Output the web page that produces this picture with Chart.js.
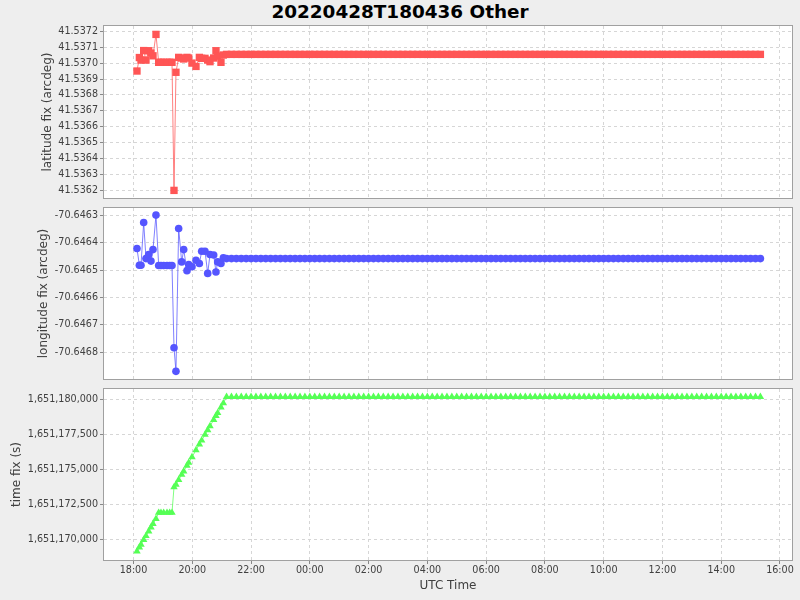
<!DOCTYPE html>
<html>
<head>
<meta charset="utf-8">
<title>20220428T180436 Other</title>
<script src="https://cdn.jsdelivr.net/npm/chart.js@4.4.1/dist/chart.umd.min.js"></script>
<style>
    html, body { margin: 0; padding: 0; background: #eeeeee; }
    #wrap { position: relative; width: 800px; height: 600px; overflow: hidden; }
    #title {
        position: absolute; left: 0; top: 1px; width: 800px; height: 24px;
        line-height: 24px; text-align: center;
        font: bold 18.4px "DejaVu Sans", sans-serif; color: #000;
    }
    canvas { position: absolute; left: 0; }
</style>
</head>
<body>
<div id="wrap">
    <div id="title">20220428T180436 Other</div>
    <canvas id="latChart" width="800" height="200" style="top:0px"></canvas>
    <canvas id="lonChart" width="800" height="181" style="top:200px"></canvas>
    <canvas id="timeChart" width="800" height="219" style="top:381px"></canvas>
</div>
<script>
// UTC time of each record, minutes after 2022-04-28 18:00 UTC
const utcMinutes = [
    7.1, 12.0, 15.3, 20.8, 25.5, 31.0, 35.7, 39.8, 45.9, 51.4,
    56.1, 61.6, 68.4, 73.9, 78.6, 82.7, 86.7, 92.2, 98.4, 102.5,
    109.2, 112.7, 119.4, 127.6, 134.5, 139.2, 146.0, 151.5, 156.2, 163.7,
    168.4, 171.9, 178.6, 183.5,
    190, 200, 210, 220, 230, 240, 250, 260, 270, 280,
    290, 300, 310, 320, 330, 340, 350, 360, 370, 380,
    390, 400, 410, 420, 430, 440, 450, 460, 470, 480,
    490, 500, 510, 520, 530, 540, 550, 560, 570, 580,
    590, 600, 610, 620, 630, 640, 650, 660, 670, 680,
    690, 700, 710, 720, 730, 740, 750, 760, 770, 780,
    790, 800, 810, 820, 830, 840, 850, 860, 870, 880,
    890, 900, 910, 920, 930, 940, 950, 960, 970, 980,
    990, 1000, 1010, 1020, 1030, 1040, 1050, 1060, 1070, 1080,
    1090, 1100, 1110, 1120, 1130, 1140, 1150, 1160, 1170, 1180,
    1190, 1200, 1210, 1220, 1230, 1240, 1250, 1260, 1270, 1280
];

const latitudeFix = [
    41.536951, 41.537036, 41.537020, 41.537080, 41.537020, 41.537079, 41.537064, 41.537047, 41.537182, 41.537006,
    41.537006, 41.537006, 41.537006, 41.537006, 41.537006, 41.536198, 41.536943, 41.537037, 41.537033, 41.537027,
    41.537037, 41.537033, 41.537001, 41.536980, 41.537037, 41.537031, 41.537031, 41.537020, 41.537010, 41.537033,
    41.537079, 41.537045, 41.537006, 41.537052,
    41.537056, 41.537056, 41.537056, 41.537056, 41.537056, 41.537056, 41.537056, 41.537056, 41.537056, 41.537056,
    41.537056, 41.537056, 41.537056, 41.537056, 41.537056, 41.537056, 41.537056, 41.537056, 41.537056, 41.537056,
    41.537056, 41.537056, 41.537056, 41.537056, 41.537056, 41.537056, 41.537056, 41.537056, 41.537056, 41.537056,
    41.537056, 41.537056, 41.537056, 41.537056, 41.537056, 41.537056, 41.537056, 41.537056, 41.537056, 41.537056,
    41.537056, 41.537056, 41.537056, 41.537056, 41.537056, 41.537056, 41.537056, 41.537056, 41.537056, 41.537056,
    41.537056, 41.537056, 41.537056, 41.537056, 41.537056, 41.537056, 41.537056, 41.537056, 41.537056, 41.537056,
    41.537056, 41.537056, 41.537056, 41.537056, 41.537056, 41.537056, 41.537056, 41.537056, 41.537056, 41.537056,
    41.537056, 41.537056, 41.537056, 41.537056, 41.537056, 41.537056, 41.537056, 41.537056, 41.537056, 41.537056,
    41.537056, 41.537056, 41.537056, 41.537056, 41.537056, 41.537056, 41.537056, 41.537056, 41.537056, 41.537056,
    41.537056, 41.537056, 41.537056, 41.537056, 41.537056, 41.537056, 41.537056, 41.537056, 41.537056, 41.537056,
    41.537056, 41.537056, 41.537056, 41.537056, 41.537056, 41.537056, 41.537056, 41.537056, 41.537056, 41.537056
];

const longitudeFix = [
    -70.646421, -70.646482, -70.646482, -70.646326, -70.646458, -70.646443, -70.646467, -70.646425, -70.646299, -70.646483,
    -70.646483, -70.646483, -70.646483, -70.646483, -70.646483, -70.646784, -70.646870, -70.646348, -70.646470, -70.646425,
    -70.646502, -70.646480, -70.646488, -70.646464, -70.646476, -70.646431, -70.646431, -70.646512, -70.646443, -70.646445,
    -70.646507, -70.646470, -70.646476, -70.646455,
    -70.646458, -70.646458, -70.646458, -70.646458, -70.646458, -70.646458, -70.646458, -70.646458, -70.646458, -70.646458,
    -70.646458, -70.646458, -70.646458, -70.646458, -70.646458, -70.646458, -70.646458, -70.646458, -70.646458, -70.646458,
    -70.646458, -70.646458, -70.646458, -70.646458, -70.646458, -70.646458, -70.646458, -70.646458, -70.646458, -70.646458,
    -70.646458, -70.646458, -70.646458, -70.646458, -70.646458, -70.646458, -70.646458, -70.646458, -70.646458, -70.646458,
    -70.646458, -70.646458, -70.646458, -70.646458, -70.646458, -70.646458, -70.646458, -70.646458, -70.646458, -70.646458,
    -70.646458, -70.646458, -70.646458, -70.646458, -70.646458, -70.646458, -70.646458, -70.646458, -70.646458, -70.646458,
    -70.646458, -70.646458, -70.646458, -70.646458, -70.646458, -70.646458, -70.646458, -70.646458, -70.646458, -70.646458,
    -70.646458, -70.646458, -70.646458, -70.646458, -70.646458, -70.646458, -70.646458, -70.646458, -70.646458, -70.646458,
    -70.646458, -70.646458, -70.646458, -70.646458, -70.646458, -70.646458, -70.646458, -70.646458, -70.646458, -70.646458,
    -70.646458, -70.646458, -70.646458, -70.646458, -70.646458, -70.646458, -70.646458, -70.646458, -70.646458, -70.646458,
    -70.646458, -70.646458, -70.646458, -70.646458, -70.646458, -70.646458, -70.646458, -70.646458, -70.646458, -70.646458
];

// time fix in epoch seconds
const timeFix = [
    1651169136, 1651169430, 1651169628, 1651169958, 1651170240, 1651170570, 1651170852, 1651171098, 1651171464, 1651171900,
    1651171900, 1651171900, 1651171900, 1651171900, 1651171900, 1651173720, 1651173912, 1651174242, 1651174614, 1651174860,
    1651175262, 1651175472, 1651175874, 1651176366, 1651176780, 1651177062, 1651177470, 1651177800, 1651178082, 1651178532,
    1651178814, 1651179024, 1651179426, 1651179720,
    1651180180, 1651180180, 1651180180, 1651180180, 1651180180, 1651180180, 1651180180, 1651180180, 1651180180, 1651180180,
    1651180180, 1651180180, 1651180180, 1651180180, 1651180180, 1651180180, 1651180180, 1651180180, 1651180180, 1651180180,
    1651180180, 1651180180, 1651180180, 1651180180, 1651180180, 1651180180, 1651180180, 1651180180, 1651180180, 1651180180,
    1651180180, 1651180180, 1651180180, 1651180180, 1651180180, 1651180180, 1651180180, 1651180180, 1651180180, 1651180180,
    1651180180, 1651180180, 1651180180, 1651180180, 1651180180, 1651180180, 1651180180, 1651180180, 1651180180, 1651180180,
    1651180180, 1651180180, 1651180180, 1651180180, 1651180180, 1651180180, 1651180180, 1651180180, 1651180180, 1651180180,
    1651180180, 1651180180, 1651180180, 1651180180, 1651180180, 1651180180, 1651180180, 1651180180, 1651180180, 1651180180,
    1651180180, 1651180180, 1651180180, 1651180180, 1651180180, 1651180180, 1651180180, 1651180180, 1651180180, 1651180180,
    1651180180, 1651180180, 1651180180, 1651180180, 1651180180, 1651180180, 1651180180, 1651180180, 1651180180, 1651180180,
    1651180180, 1651180180, 1651180180, 1651180180, 1651180180, 1651180180, 1651180180, 1651180180, 1651180180, 1651180180,
    1651180180, 1651180180, 1651180180, 1651180180, 1651180180, 1651180180, 1651180180, 1651180180, 1651180180, 1651180180
];

// axis ticks
const utcTickLabels = ['18:00', '20:00', '22:00', '00:00', '02:00', '04:00', '06:00', '08:00', '10:00', '12:00', '14:00', '16:00'];
const latTicks = [41.5362, 41.5363, 41.5364, 41.5365, 41.5366, 41.5367, 41.5368, 41.5369, 41.5370, 41.5371, 41.5372];
const lonTicks = [-70.6468, -70.6467, -70.6466, -70.6465, -70.6464, -70.6463];
const timeTicks = [1651170000, 1651172500, 1651175000, 1651177500, 1651180000];

const START_EPOCH = 1651168800; // 2022-04-28 18:00:00 UTC
const X_MIN = 1651165186;
const X_MAX = 1651249472;

const FONT = '"DejaVu Sans", sans-serif';
const TEXT_COLOR = '#404040';
const GRID_COLOR = '#d6d6d6';
const FRAME_COLOR = '#a0a0a0';

const utcSeconds = utcMinutes.map(m => START_EPOCH + m * 60);
const utcTickValues = utcTickLabels.map((label, i) => START_EPOCH + i * 7200);

function toPoints(values) {
    return values.map((v, i) => ({ x: utcSeconds[i], y: v }));
}

// white plot area and grey frame
const plotFrame = {
    id: 'plotFrame',
    beforeDraw(chart) {
        const a = chart.chartArea;
        const ctx = chart.ctx;
        ctx.save();
        ctx.fillStyle = '#ffffff';
        ctx.fillRect(a.left, a.top, a.right - a.left, a.bottom - a.top);
        ctx.restore();
    },
    afterDraw(chart) {
        const a = chart.chartArea;
        const ctx = chart.ctx;
        ctx.save();
        ctx.strokeStyle = FRAME_COLOR;
        ctx.lineWidth = 1;
        ctx.strokeRect(Math.round(a.left) - 0.5, Math.round(a.top) - 0.5,
            Math.round(a.right - a.left) + 1, Math.round(a.bottom - a.top) + 1);
        ctx.restore();
    }
};

// labels may overhang the plot, so drop the extra room Chart.js reserves for them
function noLabelPadding(axis) {
    axis.paddingTop = 0;
    axis.paddingBottom = 0;
    axis.paddingLeft = 0;
    axis.paddingRight = 0;
}

function makePanel(canvasId, cfg) {
    const ctx = document.getElementById(canvasId).getContext('2d');
    const showX = cfg.showXAxis;
    return new Chart(ctx, {
        type: 'scatter',
        data: {
            datasets: [{
                data: toPoints(cfg.values),
                showLine: true,
                borderColor: cfg.lineColor,
                borderWidth: 1,
                pointStyle: cfg.pointStyle,
                pointRadius: cfg.pointRadius,
                pointBackgroundColor: cfg.color,
                pointBorderColor: cfg.color,
                pointBorderWidth: 0
            }]
        },
        options: {
            responsive: false,
            animation: false,
            devicePixelRatio: 1,
            layout: {
                autoPadding: false,
                padding: { left: 0, right: 8, top: cfg.padTop, bottom: cfg.padBottom }
            },
            plugins: { legend: { display: false }, tooltip: { enabled: false } },
            scales: {
                x: {
                    type: 'linear',
                    min: X_MIN,
                    max: X_MAX,
                    afterBuildTicks: axis => {
                        axis.ticks = utcTickValues.map(v => ({ value: v }));
                    },
                    afterFit: axis => {
                        axis.height = showX ? 40 : 0;
                        noLabelPadding(axis);
                    },
                    ticks: {
                        display: showX,
                        padding: 1,
                        maxRotation: 0,
                        autoSkip: false,
                        color: TEXT_COLOR,
                        font: { family: FONT, size: 9.6 },
                        callback: (v) => utcTickLabels[utcTickValues.indexOf(v)]
                    },
                    grid: {
                        color: GRID_COLOR,
                        lineWidth: 1,
                        drawTicks: showX,
                        tickLength: 4,
                        tickColor: '#888888',
                        tickBorderDash: []
                    },
                    border: { display: false, dash: [3, 3] },
                    title: {
                        display: showX,
                        text: 'UTC Time',
                        color: TEXT_COLOR,
                        font: { family: FONT, size: 12 },
                        padding: { top: 0, bottom: 7 }
                    }
                },
                y: {
                    type: 'linear',
                    min: cfg.yMin,
                    max: cfg.yMax,
                    afterBuildTicks: axis => {
                        axis.ticks = cfg.ticks.map(v => ({ value: v }));
                    },
                    afterFit: axis => {
                        axis.width = 104;
                        noLabelPadding(axis);
                    },
                    ticks: {
                        padding: 2,
                        autoSkip: false,
                        color: TEXT_COLOR,
                        font: { family: FONT, size: 9.6 },
                        callback: cfg.format
                    },
                    grid: {
                        color: GRID_COLOR,
                        lineWidth: 1,
                        drawTicks: true,
                        tickLength: 4,
                        tickColor: '#888888',
                        tickBorderDash: []
                    },
                    border: { display: false, dash: [3, 3] },
                    title: {
                        display: true,
                        text: cfg.label,
                        color: TEXT_COLOR,
                        font: { family: FONT, size: 12 },
                        padding: { top: cfg.titlePad, bottom: 0 }
                    }
                }
            }
        },
        plugins: [plotFrame]
    });
}

makePanel('latChart', {
    values: latitudeFix,
    color: '#ff5555',
    lineColor: 'rgba(255, 85, 85, 0.75)',
    pointStyle: 'rect',
    pointRadius: 5.2,
    yMin: 41.536150,
    yMax: 41.537235,
    ticks: latTicks,
    format: v => v.toFixed(4),
    label: 'latitude fix (arcdeg)',
    titlePad: 40.5,
    padTop: 26,
    padBottom: 2,
    showXAxis: false
});

makePanel('lonChart', {
    values: longitudeFix,
    color: '#5555ff',
    lineColor: 'rgba(85, 85, 255, 0.75)',
    pointStyle: 'circle',
    pointRadius: 3.8,
    yMin: -70.646898,
    yMax: -70.646273,
    ticks: lonTicks,
    format: v => v.toFixed(4),
    label: 'longitude fix (arcdeg)',
    titlePad: 36.8,
    padTop: 8,
    padBottom: 2,
    showXAxis: false
});

makePanel('timeChart', {
    values: timeFix,
    color: '#55ff55',
    lineColor: 'rgba(85, 255, 85, 0.75)',
    pointStyle: 'triangle',
    pointRadius: 4.3,
    yMin: 1651168521,
    yMax: 1651180736,
    ticks: timeTicks,
    format: v => v.toLocaleString('en-US'),
    label: 'time fix (s)',
    titlePad: 10.1,
    padTop: 8,
    padBottom: 0,
    showXAxis: true
});
</script>
</body>
</html>
